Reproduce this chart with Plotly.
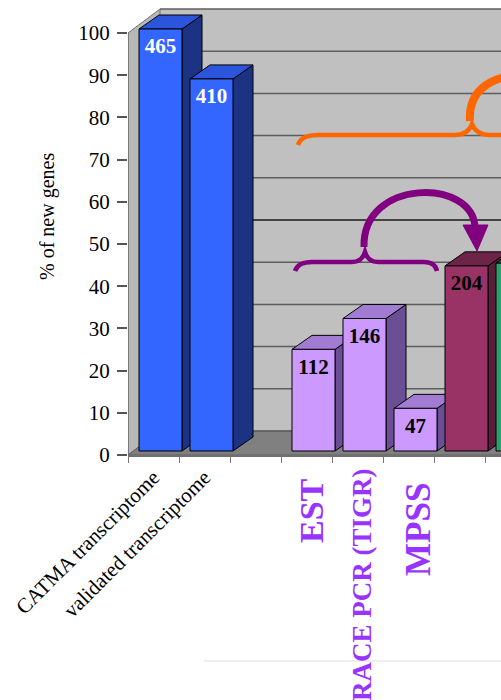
import plotly.graph_objects as go

# ---------------------------------------------------------------------------
# Data: number of new genes found by each source.  Bar heights are the
# percentage of the CATMA transcriptome total.
# ---------------------------------------------------------------------------
categories = ["CATMA transcriptome", "validated transcriptome", "", "EST",
              "RACE PCR (TIGR)", "MPSS", "", ""]
gene_counts = [465, 410, None, 112, 146, 47, 204, 207]
value_labels = ["465", "410", "", "112", "146", "47", "204", ""]
reference_total = 465
y_tick_values = [0, 10, 20, 30, 40, 50, 60, 70, 80, 90, 100]

front_colors = ["#3366FF", "#3366FF", None, "#CC99FF", "#CC99FF", "#CC99FF", "#993366", "#2E9E6C"]
top_colors = ["#2B55DA", "#2B55DA", None, "#A27BD2", "#A27BD2", "#A27BD2", "#6E2448", "#207550"]
side_colors = ["#1C3282", "#1C3282", None, "#6A4F95", "#6A4F95", "#6A4F95", "#5A1D3B", "#185C3E"]
label_colors = ["white", "white", None, "black", "black", "black", "black", "black"]

# purple method labels under the plot: (category index, font size, x shift, top in px)
method_labels = [(3, 34, 5, 476), (4, 27, 4, 466), (5, 35, 10, 481)]
method_color = "#9933FF"

# ---------------------------------------------------------------------------
# Pseudo-3D geometry (pixels)
# ---------------------------------------------------------------------------
FIG_W, FIG_H = 501, 700
PLOT_LEFT, PLOT_BOTTOM = 128, 455
PX_CAT = 51.0          # pixels per category slot
PX_PCT = 4.22          # pixels per percent
X0 = -0.5
X1 = X0 + (FIG_W - PLOT_LEFT) / PX_CAT
Y1 = PLOT_BOTTOM / PX_PCT

WALL_DX, WALL_DY = 32 / PX_CAT, 24 / PX_PCT     # depth of the back wall
BAR_DX, BAR_DY = 7 / PX_CAT, 4 / PX_PCT         # bar front plane offset
DEP_X, DEP_Y = 20 / PX_CAT, 14 / PX_PCT         # bar depth
BAR_W = 43 / PX_CAT


def fx(px):
    return X0 + (px - PLOT_LEFT) / PX_CAT


def fy(py):
    return (PLOT_BOTTOM - py) / PX_PCT


def px_path(cmds):
    """Build an SVG path in data units from pixel-space commands."""
    out = []
    for letter, pts in cmds:
        coords = " ".join(f"{fx(x):.4f},{fy(y):.4f}" for x, y in pts)
        out.append(f"{letter} {coords}")
    return " ".join(out)


fig = go.Figure()

# keeps the front-plane subplot alive
fig.add_trace(go.Scatter(x=[X0], y=[0], mode="markers", marker=dict(opacity=0),
                         hoverinfo="skip", xaxis="x", yaxis="y"))

slots = [i for i, c in enumerate(gene_counts) if c is not None]
pct = [gene_counts[i] / reference_total * 100 for i in slots]

# side and top faces of each column
for i, p in zip(slots, pct):
    r = i + BAR_W / 2
    l = i - BAR_W / 2
    fig.add_trace(go.Scatter(
        x=[r, r + DEP_X, r + DEP_X, r, r], y=[0, DEP_Y, p + DEP_Y, p, 0],
        mode="lines", fill="toself", fillcolor=side_colors[i],
        line=dict(color="black", width=1), hoverinfo="skip",
        xaxis="x2", yaxis="y2"))
    fig.add_trace(go.Scatter(
        x=[l, r, r + DEP_X, l + DEP_X, l], y=[p, p, p + DEP_Y, p + DEP_Y, p],
        mode="lines", fill="toself", fillcolor=top_colors[i],
        line=dict(color="black", width=1), hoverinfo="skip",
        xaxis="x2", yaxis="y2"))

# front faces
fig.add_trace(go.Bar(
    x=slots, y=pct, width=BAR_W,
    marker=dict(color=[front_colors[i] for i in slots], line=dict(color="black", width=1)),
    hoverinfo="skip", xaxis="x3", yaxis="y3"))

# value labels near the top of each front face
fig.add_trace(go.Scatter(
    x=slots, y=[p - 19 / PX_PCT for p in pct], mode="text",
    text=[value_labels[i] for i in slots],
    textfont=dict(family="Liberation Serif", size=21, color=[label_colors[i] for i in slots],
                  weight="bold"),
    hoverinfo="skip", xaxis="x3", yaxis="y3"))

# ---------------------------------------------------------------------------
# Walls, floor and gridlines
# ---------------------------------------------------------------------------
shapes = []
XR = X1 + 1
shapes.append(dict(type="rect", xref="x", yref="y", layer="below",
                   x0=X0 + WALL_DX, x1=XR, y0=WALL_DY, y1=100 + WALL_DY,
                   fillcolor="#C0C0C0", line=dict(width=0)))
shapes.append(dict(type="path", xref="x", yref="y", layer="below",
                   path=f"M {X0},0 L {X0},100 L {X0 + WALL_DX},{100 + WALL_DY} "
                        f"L {X0 + WALL_DX},{WALL_DY} Z",
                   fillcolor="#B8B8B8", line=dict(color="#707070", width=1)))
shapes.append(dict(type="path", xref="x", yref="y", layer="below",
                   path=f"M {X0},0 L {X0 + WALL_DX},{WALL_DY} L {XR},{WALL_DY} L {XR},0 Z",
                   fillcolor="#808080", line=dict(color="#606060", width=1)))
for v in y_tick_values:
    shapes.append(dict(type="line", xref="x", yref="y", layer="below",
                       x0=X0 + WALL_DX, x1=XR, y0=v + WALL_DY, y1=v + WALL_DY,
                       line=dict(color="#1A1A1A" if v == 50 else "#5E5E5E",
                                 width=1.5)))
# front vertical edge of the side wall (value axis line)
shapes.append(dict(type="line", xref="x", yref="y", layer="below",
                   x0=X0, x1=X0, y0=0, y1=100, line=dict(color="#707070", width=1.5)))

# braces and arrows
shapes.append(dict(type="path", xref="x", yref="y", layer="above",
                   path=px_path([("M", [(298, 145)]), ("Q", [(301, 135), (318, 135)]),
                                 ("L", [(455, 135)]), ("Q", [(468, 135), (472, 124)]),
                                 ("Q", [(476, 135), (490, 135)]), ("L", [(520, 135)])]),
                   line=dict(color="#FF6600", width=4.5)))
shapes.append(dict(type="path", xref="x", yref="y", layer="above",
                   path=px_path([("M", [(470, 121)]), ("C", [(468, 92), (488, 78), (520, 74)])]),
                   line=dict(color="#FF6600", width=8)))
shapes.append(dict(type="path", xref="x", yref="y", layer="above",
                   path=px_path([("M", [(295, 271)]), ("Q", [(298, 262), (312, 262)]),
                                 ("L", [(352, 262)]), ("Q", [(362, 262), (365, 252)]),
                                 ("Q", [(368, 262), (378, 262)]), ("L", [(424, 262)]),
                                 ("Q", [(435, 262), (437, 271)])]),
                   line=dict(color="#800080", width=4.5)))
shapes.append(dict(type="path", xref="x", yref="y", layer="above",
                   path=px_path([("M", [(364, 247)]), ("C", [(362, 178), (474, 178), (475, 228)])]),
                   line=dict(color="#800080", width=7)))
shapes.append(dict(type="path", xref="x", yref="y", layer="above",
                   path=px_path([("M", [(463, 225)]), ("L", [(488, 225)]), ("L", [(477, 251)])]) + " Z",
                   fillcolor="#800080", line=dict(color="#800080", width=1)))

# faint frame line at the bottom
shapes.append(dict(type="line", xref="paper", yref="paper",
                   x0=(204 - PLOT_LEFT) / (FIG_W - PLOT_LEFT), x1=1.0,
                   y0=(PLOT_BOTTOM - 661) / PLOT_BOTTOM, y1=(PLOT_BOTTOM - 661) / PLOT_BOTTOM,
                   line=dict(color="#DDDDDD", width=1)))

annotations = [dict(text="% of new genes", textangle=-90, xref="paper", yref="paper",
                    x=(47 - PLOT_LEFT) / (FIG_W - PLOT_LEFT), y=(PLOT_BOTTOM - 217) / PLOT_BOTTOM,
                    xanchor="center", yanchor="middle", showarrow=False,
                    font=dict(family="Liberation Serif", size=20, color="black"))]
for idx, size, shift, top in method_labels:
    annotations.append(dict(text=f"<b>{categories[idx]}</b>", textangle=-90,
                            xref="x", yref="paper", x=idx, xshift=shift,
                            y=(PLOT_BOTTOM - top) / PLOT_BOTTOM,
                            xanchor="center", yanchor="top", showarrow=False,
                            font=dict(family="Liberation Serif", size=size, color=method_color)))

fig.update_layout(
    width=FIG_W, height=FIG_H,
    margin=dict(l=PLOT_LEFT, r=0, t=0, b=FIG_H - PLOT_BOTTOM),
    paper_bgcolor="white", plot_bgcolor="white", showlegend=False,
    font=dict(family="Liberation Serif", color="black"),
    xaxis=dict(range=[X0, X1], tickmode="array", tickvals=[0, 1],
               ticktext=categories[:2], tickangle=-45, ticks="",
               tickfont=dict(size=21, color="black"),
               minor=dict(tickmode="array", tickvals=[X0 + k for k in range(8)],
                          ticks="outside", ticklen=6, tickcolor="#777777", showgrid=False),
               showgrid=False, zeroline=False, showline=True, linecolor="#707070",
               linewidth=1.5, automargin=False, fixedrange=True),
    yaxis=dict(range=[0, Y1], tickmode="array", tickvals=y_tick_values,
               ticks="outside", ticklen=10, tickcolor="#555555", tickwidth=1.5,
               tickfont=dict(size=21, color="black"), ticklabelstandoff=3,
               showgrid=False, zeroline=False, showline=False, automargin=False,
               fixedrange=True),
    xaxis2=dict(overlaying="x", anchor="y2", range=[X0 - BAR_DX, X1 - BAR_DX], visible=False),
    yaxis2=dict(overlaying="y", anchor="x2", range=[-BAR_DY, Y1 - BAR_DY], visible=False),
    xaxis3=dict(overlaying="x", anchor="y3", range=[X0 - BAR_DX, X1 - BAR_DX], visible=False),
    yaxis3=dict(overlaying="y", anchor="x3", range=[-BAR_DY, Y1 - BAR_DY], visible=False),
    shapes=shapes, annotations=annotations,
)

fig.write_html("out.html")
